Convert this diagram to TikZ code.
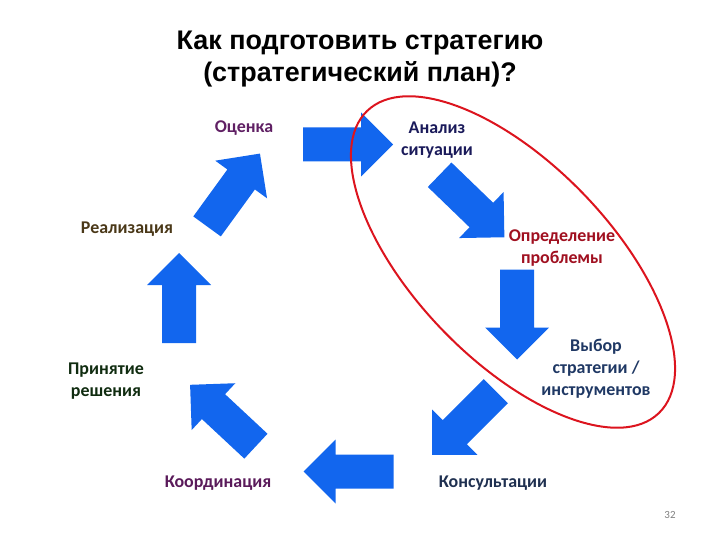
\documentclass[tikz,border=0pt]{standalone}
\usepackage{fontspec}
\setmainfont{Carlito}
\newfontfamily\titlefont{Liberation Sans}
\definecolor{arrblue}{RGB}{18,102,238}
\definecolor{ovalred}{RGB}{220,20,30}
\tikzset{
  blockarrow/.pic={
    \fill[arrblue] (-45,-17) -- (13,-17) -- (13,-32) -- (45,0) -- (13,32) -- (13,17) -- (-45,17) -- cycle;
  },
  lbl/.style={font=\fontsize{18}{22}\selectfont\bfseries, align=center, inner sep=0pt}
}
\begin{document}
\begin{tikzpicture}[x=1bp,y=-1bp]
\useasboundingbox (0,0) rectangle (720,540);
\node[font=\titlefont\fontsize{27}{33}\selectfont\bfseries, align=center] (title) at (360,59)
  {Как подготовить стратегию\\(стратегический план)?};
% arrows
\pic[rotate=0]    (aA) at (348,144.5) {blockarrow};
\pic[rotate=-44]  (aB) at (472,206) {blockarrow};
\pic[rotate=-90]  (aC) at (517,314.5) {blockarrow};
\pic[rotate=-135] (aD) at (464,423) {blockarrow};
\pic[rotate=180]  (aE) at (348.5,471.5) {blockarrow};
\pic[rotate=137]  (aF) at (223,415.5) {blockarrow};
\pic[rotate=90]   (aG) at (179,298) {blockarrow};
\pic[rotate=54]   (aH) at (233.5,190) {blockarrow};
% labels
\node[lbl, text={rgb,255:red,96;green,32;blue,100}] (ocenka) at (244,128) {Оценка};
\node[lbl, text={rgb,255:red,26;green,26;blue,90}] (analiz) at (437,140) {Анализ\\ситуации};
\node[lbl, text={rgb,255:red,74;green,56;blue,24}] (realiz) at (127,229) {Реализация};
\node[lbl, text={rgb,255:red,160;green,16;blue,32}] (opred) at (562,248) {Определение\\проблемы};
\node[lbl, text={rgb,255:red,31;green,56;blue,100}] (vybor) at (596,369) {Выбор\\стратегии /\\инструментов};
\node[lbl, text={rgb,255:red,16;green,44;blue,16}] (prin) at (106,381) {Принятие\\решения};
\node[lbl, text={rgb,255:red,90;green,26;blue,90}] (koord) at (218,483) {Координация};
\node[lbl, text={rgb,255:red,31;green,48;blue,80}] (kons) at (493,483) {Консультации};
\node[font=\fontsize{11}{12}\selectfont, text=gray, inner sep=0pt] (num) at (670,515) {32};
% red oval
\draw[ovalred, line width=2bp, rotate around={-46:(513,262)}] (513,262) ellipse (210 and 98);
\end{tikzpicture}
\end{document}
